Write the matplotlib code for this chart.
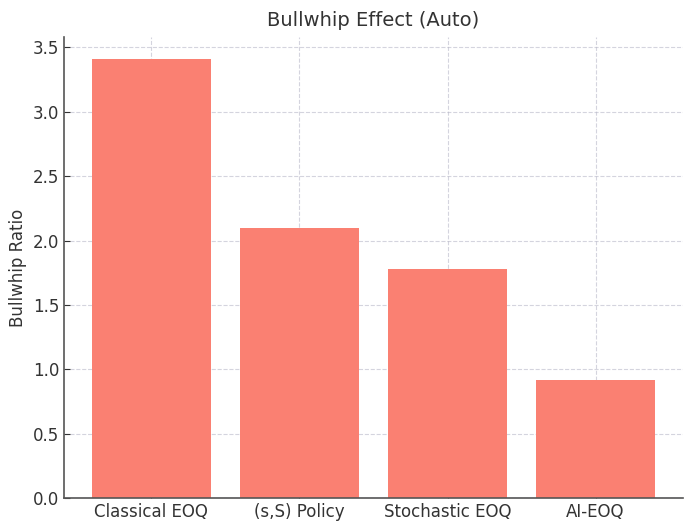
import matplotlib
matplotlib.use('Agg')
import matplotlib.pyplot as plt

# Bullwhip ratio per inventory policy
policies = ['Classical EOQ', '(s,S) Policy', 'Stochastic EOQ', 'AI-EOQ']
bullwhip_ratio = [3.41, 2.10, 1.78, 0.92]

BAR_COLOR = '#FA8072'
TEXT_COLOR = '#333333'

fig = plt.figure(figsize=(6.86, 5.25), dpi=100)
ax = fig.add_axes([0.0933, 0.0514, 0.9023, 0.8781])

ax.bar(policies, bullwhip_ratio, color=BAR_COLOR, width=0.8, zorder=2)

ax.set_title('Bullwhip Effect (Auto)', fontsize=14, color=TEXT_COLOR, pad=8)
ax.set_ylabel('Bullwhip Ratio', fontsize=12, color=TEXT_COLOR)

ax.grid(True, linestyle='--', color='#b8b8c8', alpha=0.6, linewidth=0.8, zorder=3)
ax.tick_params(direction='in', labelsize=12, colors=TEXT_COLOR, length=4)

for side in ['top', 'right']:
    ax.spines[side].set_visible(False)
for side in ['left', 'bottom']:
    ax.spines[side].set_color('#555555')
    ax.spines[side].set_linewidth(1.2)

fig.savefig('out.png', dpi=100)
plt.close(fig)
